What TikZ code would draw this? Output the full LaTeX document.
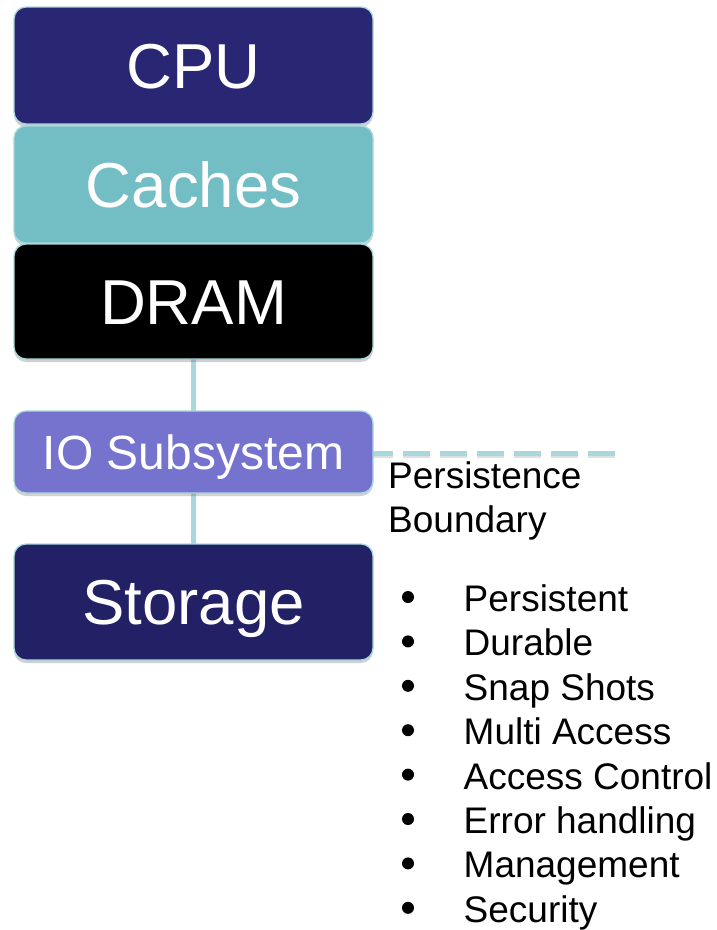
\documentclass[tikz,border=0pt]{standalone}
\usepackage{fontspec}
\setmainfont{Liberation Sans}
\usetikzlibrary{shadows}

\definecolor{cpublue}{RGB}{41,38,115}
\definecolor{cachecyan}{RGB}{115,190,197}
\definecolor{iopurple}{RGB}{117,115,206}
\definecolor{storeblue}{RGB}{35,33,102}
\definecolor{edgecyan}{RGB}{168,216,220}

\tikzset{
  layer/.style={draw=edgecyan, line width=1.3pt, rounded corners=12pt,
    minimum width=359pt, inner sep=0pt, text=white,
    text depth=0pt,
    drop shadow={shadow xshift=0pt, shadow yshift=-3pt, opacity=0.3, fill=black!60}},
  bigtext/.style={font=\fontsize{63.5}{70}\selectfont, text height=45.5pt},
  midtext/.style={font=\fontsize{48}{54}\selectfont, text height=34.4pt},
  link/.style={draw=edgecyan, line width=5pt},
  boundary/.style={draw=edgecyan, line width=5pt, dash pattern=on 27pt off 10pt},
  note/.style={font=\fontsize{37}{44.5}\selectfont, anchor=base west, inner sep=0pt},
  dot/.style={circle, fill=black, inner sep=0pt, minimum size=12pt}
}

\begin{document}
\begin{tikzpicture}[x=1pt, y=-1pt]
  \useasboundingbox (0,0) rectangle (716,930);

  % links between the stack layers (drawn first, behind the boxes)
  \coordinate (dramlow) at (193.5,359);
  \coordinate (iohigh) at (193.5,411);
  \coordinate (iolow) at (193.5,493);
  \coordinate (storhigh) at (193.5,544);
  \draw[link] (dramlow) -- (iohigh);
  \draw[link] (iolow) -- (storhigh);

  % persistence boundary, with a soft shadow under the dashes
  \coordinate (bstart) at (366,453);
  \coordinate (bend) at (618,453);
  \draw[boundary, draw=black!25, opacity=0.5, transform canvas={yshift=-2.5pt}] (bstart) -- (bend);
  \draw[boundary] (bstart) -- (bend);

  % memory / storage hierarchy
  \node[layer, bigtext, fill=cpublue, minimum height=117pt] (cpu) at (193.5,65.5) {CPU};
  \node[layer, bigtext, fill=cachecyan, minimum height=117pt] (cache) at (193.5,184.5) {Caches};
  \node[layer, bigtext, fill=black, minimum height=115pt] (dram) at (193.5,301.5) {DRAM};
  \node[layer, midtext, fill=iopurple, minimum height=82pt] (io) at (193.5,452) {IO Subsystem};
  \node[layer, bigtext, fill=storeblue, minimum height=116pt] (stor) at (193.5,602) {Storage};

  % boundary label
  \node[note] (pb1) at (388,488) {Persistence};
  \node[note] (pb2) at (388,532.5) {Boundary};

  % storage properties
  \foreach \name/\txt [count=\i from 0] in {
      p1/Persistent, p2/Durable, p3/Snap Shots, p4/Multi Access,
      p5/Access Control, p6/Error handling, p7/Management, p8/Security} {
    \node[dot] (b\name) at (408, 597+44.4*\i) {};
    \node[note] (\name) at (463.5, 611.5+44.4*\i) {\txt};
  }
\end{tikzpicture}
\end{document}
